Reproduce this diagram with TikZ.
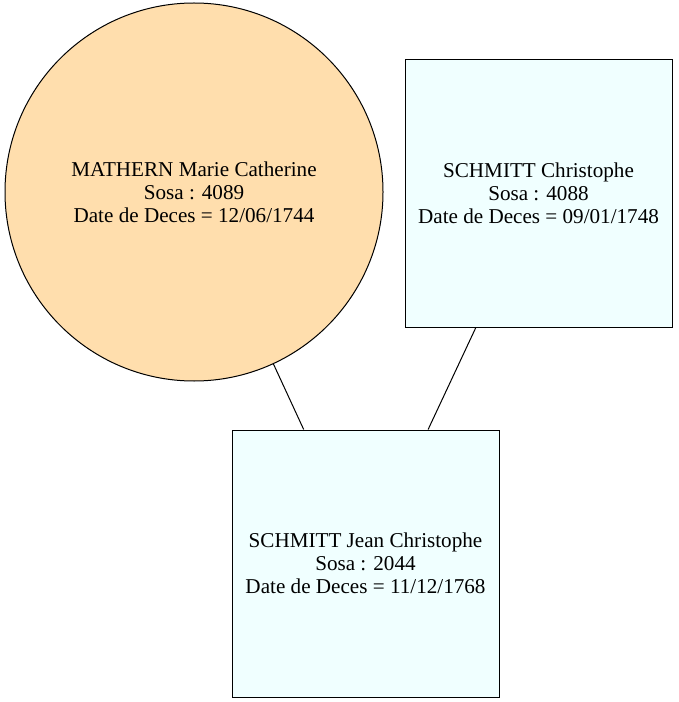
\documentclass[tikz,border=0pt]{standalone}
\usepackage{fontspec}
\setmainfont{Liberation Serif}
\usepackage{xcolor}
\definecolor{customcolor1}{HTML}{FFDEAD}
\definecolor{customcolor2}{HTML}{F0FFFF}

\begin{document}
\begin{tikzpicture}[x = 0.75pt, y = -0.75pt, line width = 0.75pt,
    person/.style = {draw, align = center, font = \fontsize{15.85}{17.25}\selectfont},
    female/.style = {person, fill = customcolor1, circle, minimum size = 283.5pt, inner sep = 0pt},
    male/.style = {person, fill = customcolor2, rectangle, minimum width = 200.25pt, minimum height = 200.25pt}]
        \useasboundingbox (0, 0) rectangle (678, 702);

        % Nodes
        \node [female] (a) at (194, 192) {MATHERN Marie Catherine\\Sosa : 4089\\Date de Deces = 12/06/1744};
        \node [male] (b) at (538.5, 193.5) {SCHMITT Christophe\\Sosa : 4088\\Date de Deces = 09/01/1748};
        \node [male] (c) at (365.5, 563.5) {SCHMITT Jean Christophe\\Sosa : 2044\\Date de Deces = 11/12/1768};

        % Draw the links
        \draw (a) -- (c);
        \draw (b) -- (c);

    \end{tikzpicture}
\end{document}
